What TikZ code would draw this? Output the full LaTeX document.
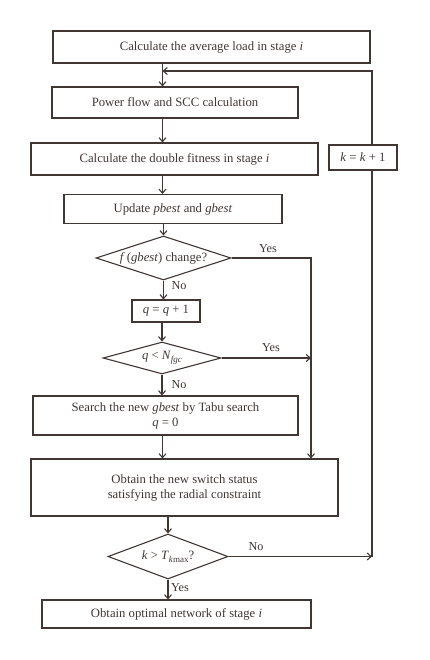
\documentclass[tikz,border=0pt]{standalone}
\usepackage{fontspec}
\setmainfont{Liberation Serif}
\usetikzlibrary{shapes.geometric,arrows.meta}
\definecolor{ink}{RGB}{64,54,52}
\newcommand{\lowsub}[1]{\raisebox{-0.45ex}{\fontsize{9}{10}\selectfont\textit{#1}}}
\begin{document}
\begin{tikzpicture}[x=1pt,y=-1pt,
  every node/.style={text=ink,font=\fontsize{12.7}{15}\selectfont},
  box/.style={draw=ink,line width=1.1pt,rectangle,inner sep=0pt,align=center},
  dia/.style={draw=ink,line width=1.1pt,diamond,inner sep=0pt,align=center},
  flow/.style={draw=ink,line width=1.1pt,-{Straight Barb[length=4pt,width=7pt]}},
  line/.style={draw=ink,line width=1.1pt},
  lab/.style={font=\fontsize{12.2}{14}\selectfont}]
\useasboundingbox (0,0) rectangle (429,660);
\node[box,minimum width=317pt,minimum height=32pt] (b1) at (211.5,47) {Calculate the average load in stage \textit{i}};
\node[box,minimum width=246pt,minimum height=31pt] (b2) at (175,102.5) {Power flow and SCC calculation};
\node[box,minimum width=287pt,minimum height=32pt] (b3) at (174.5,159) {Calculate the double fitness in stage \textit{i}};
\node[box,minimum width=68pt,minimum height=25pt] (k) at (363,157.5) {\textit{k} = \textit{k} + 1};
\node[box,minimum width=218pt,minimum height=29pt] (b4) at (173,209) {Update \textit{pbest} and \textit{gbest}};
\node[dia,aspect=3.07,minimum width=135pt,minimum height=44pt] (d1) at (163.5,258) {\textit{f}\,(\textit{gbest}) change?};
\node[box,minimum width=68pt,minimum height=22pt] (q) at (166,311) {\textit{q} = \textit{q} + 1};
\node[dia,aspect=3.7,minimum width=118pt,minimum height=32pt] (d2) at (162,358) {\textit{q} < \textit{N}\lowsub{fgc}};
\node[box,minimum width=265pt,minimum height=39pt] (b5) at (165.5,415.5) {Search the new \textit{gbest} by Tabu search\\\textit{q} = 0};
\node[box,minimum width=307pt,minimum height=57pt] (b6) at (184.5,487.5) {Obtain the new switch status\\satisfying the radial constraint};
\node[dia,aspect=2.67,minimum width=120pt,minimum height=45pt] (d3) at (168,556.5) {\textit{k} > \textit{T}\lowsub{k}\raisebox{-0.45ex}{\fontsize{9}{10}\selectfont max}?};
\node[box,minimum width=269pt,minimum height=28pt] (b7) at (176.5,614) {Obtain optimal network of stage \textit{i}};
\coordinate (m) at (162.5,0);
\coordinate (r) at (311,0);
\coordinate (lp) at (372,0);
\draw[flow] (b1.south -| m) -- (b2.north -| m);
\draw[flow] (b2.south -| m) -- (b3.north -| m);
\draw[flow] (b3.south -| m) -- (b4.north -| m);
\draw[flow] (b4.south -| d1.north) -- (d1.north);
\draw[flow] (d1.south) -- (q.north -| d1.south);
\node[lab] (no1) at (179,286) {No};
\draw[flow] (q.south -| d2.north) -- (d2.north);
\draw[flow] (d2.south) -- (b5.north -| d2.south);
\node[lab] (no2) at (179,385) {No};
\draw[flow] (b5.south -| m) -- (b6.north -| m);
\draw[flow] (b6.south -| d3.north) -- (d3.north);
\draw[flow] (d3.south) -- (b7.north -| d3.south);
\node[lab] (y3) at (180,588) {Yes};
\draw[flow] (d1.east) -- (d1.east -| r) -- (b6.north -| r);
\node[lab] (y1) at (268,249) {Yes};
\draw[flow] (d2.east) -- (d2.east -| r);
\node[lab] (y2) at (271,348) {Yes};
\draw[flow] (d3.east) -- (d3.east -| lp);
\node[lab] (n3) at (256,547) {No};
\draw[line] (d3.east -| lp) -- (k.south -| lp);
\draw[flow] (k.north -| lp) -- (lp |- 0,71) -- (m |- 0,71);
\end{tikzpicture}
\end{document}
